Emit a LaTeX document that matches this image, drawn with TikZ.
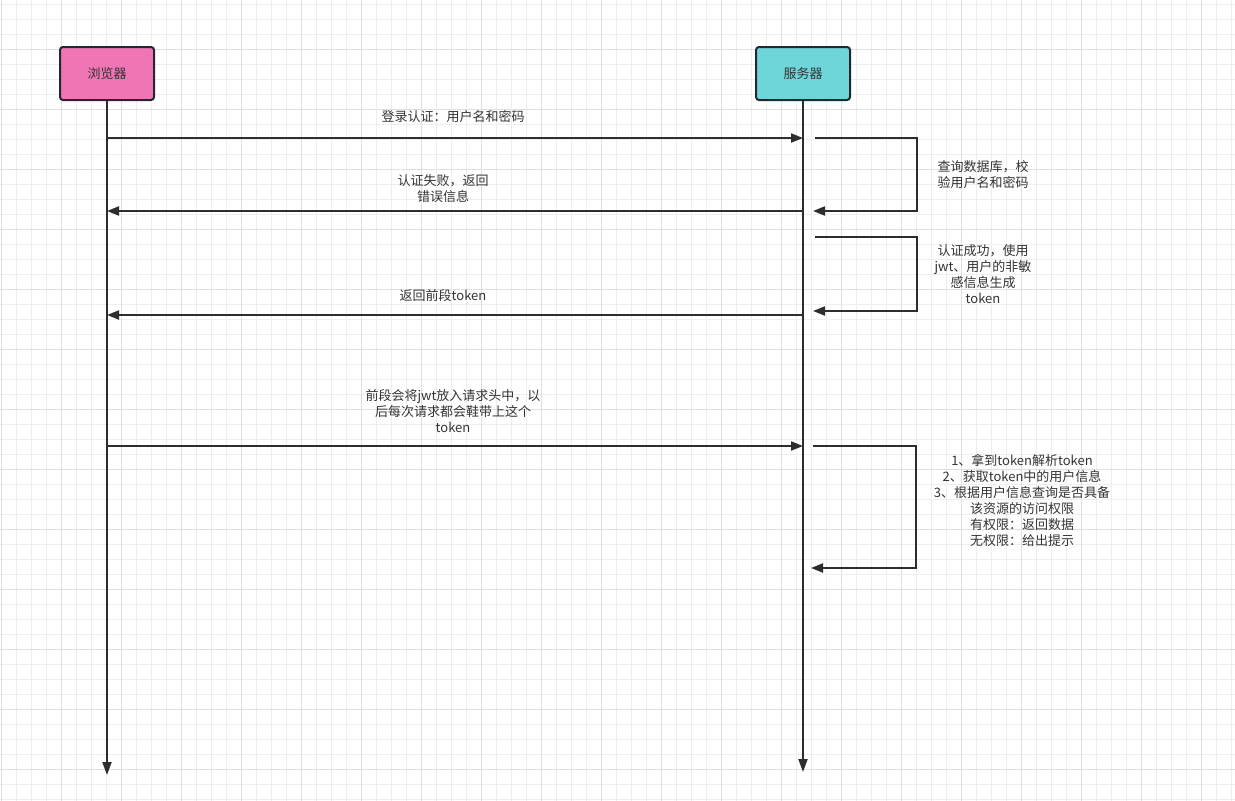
\documentclass[tikz,border=0pt]{standalone}
\usepackage{fontspec}
\setmainfont{Noto Sans CJK SC}
\usetikzlibrary{arrows.meta,calc}
\definecolor{ink}{RGB}{45,45,45}
\definecolor{txt}{RGB}{51,51,51}
\definecolor{boxline}{RGB}{35,40,48}
\definecolor{gridminor}{RGB}{238,238,238}
\definecolor{gridmajor}{RGB}{224,224,224}
\definecolor{browserfill}{RGB}{240,117,180}
\definecolor{serverfill}{RGB}{110,214,216}
\tikzset{
  every picture/.style={x=1pt, y=-1pt, line width=2pt, font=\fontsize{13}{16}\selectfont},
  actor/.style={draw=boxline, rounded corners=3pt, minimum width=94pt, minimum height=53pt, text=txt, inner sep=0pt},
  life/.style={draw=ink, -{Triangle[length=13pt,width=9pt]}},
  msg/.style={draw=ink, -{Triangle[length=12pt,width=9pt]}},
  lbl/.style={text=txt, align=center, inner sep=0pt},
}

\begin{document}
\begin{tikzpicture}
  \useasboundingbox (0,0) rectangle (1235,801);
  \fill[white] (0,0) rectangle (1235,801);
  % background grid
  \foreach \x in {1.7,16.7,...,1235} \draw[gridminor, line width=0.8pt] (\x,0) -- (\x,801);
  \foreach \y in {4,19,...,801} \draw[gridminor, line width=0.8pt] (0,\y) -- (1235,\y);
  \foreach \x in {1.7,61.7,...,1235} \draw[gridmajor, line width=0.8pt] (\x,0) -- (\x,801);
  \foreach \y in {49,109,...,801} \draw[gridmajor, line width=0.8pt] (0,\y) -- (1235,\y);

  % participants
  \node[actor, fill=browserfill] (browser) at (107,73.5) {浏览器};
  \node[actor, fill=serverfill] (server) at (803,73.5) {服务器};
  \coordinate (browserEnd) at (107,775);
  \coordinate (serverEnd) at (803,772);
  \draw[life] (browser) -- (browserEnd);
  \draw[life] (server) -- (serverEnd);

  % points on the lifelines
  \coordinate (b1) at (107,138);  \coordinate (s1) at (803,138);
  \coordinate (b2) at (107,211);  \coordinate (s2) at (803,211);
  \coordinate (b3) at (107,315);  \coordinate (s3) at (803,315);
  \coordinate (b4) at (107,446);  \coordinate (s4) at (803,446);

  % login request
  \draw[msg] (b1) -- (s1);
  \node[lbl] (login) at (453,117) {登录认证：用户名和密码};
  \coordinate (check) at (917,138);
  \draw[msg] ($(s1)+(12,0)$) -- (check) |- ($(s2)+(10,0)$);
  \node[lbl] (checkLbl) at (983,175) {查询数据库，校\\验用户名和密码};

  % failure
  \draw[msg] (s2) -- (b2);
  \node[lbl] (fail) at (443,189) {认证失败，返回\\错误信息};

  % token creation
  \coordinate (make) at (917,237);
  \draw[msg] ($(s2)+(12,26)$) -- (make) |- ($(s3)+(10,-4)$);
  \node[lbl] (makeLbl) at (983,274) {认证成功，使用\\jwt、用户的非敏\\感信息生成\\token};
  \draw[msg] (s3) -- (b3);
  \node[lbl] (back) at (443,296) {返回前段token};

  % requests with token
  \draw[msg] (b4) -- (s4);
  \node[lbl] (carry) at (453,411) {前段会将jwt放入请求头中，以\\后每次请求都会鞋带上这个\\token};
  \coordinate (verify) at (916,446);
  \draw[msg] ($(s4)+(10,0)$) -- (verify) |- ($(s4)+(8,122)$);
  \node[lbl] (verifyLbl) at (1022,500) {1、拿到token解析token\\2、获取token中的用户信息\\3、根据用户信息查询是否具备\\该资源的访问权限\\有权限：返回数据\\无权限：给出提示};
\end{tikzpicture}
\end{document}
